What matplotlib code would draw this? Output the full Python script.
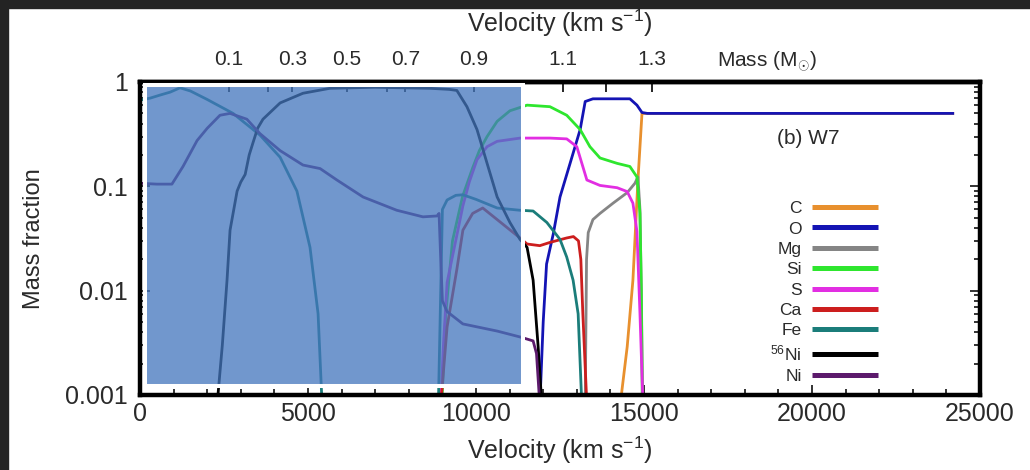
import numpy as np
import matplotlib
matplotlib.use("Agg")
import matplotlib.pyplot as plt
from matplotlib.patches import Rectangle
from matplotlib.ticker import FixedLocator, FixedFormatter, NullFormatter

plt.rcParams['font.family'] = ['Liberation Sans', 'DejaVu Sans']
plt.rcParams['mathtext.fontset'] = 'custom'
plt.rcParams['mathtext.rm'] = 'Liberation Sans'
plt.rcParams['mathtext.it'] = 'Liberation Sans:italic'

nan = np.nan

# velocity (km/s) and mass fraction
c_v = [14290, 14500, 14670, 14820, 14940, 15100, 24230]
c_x = [0.0008, 0.0029, 0.0126, 0.115, 0.5, 0.5, 0.5]

o_v = [11900, 12000, 12100, 12300, 12500, 12800, 13100, 13250, 13480, 14580, 14790, 14940, 15100, 24230]
o_x = [0.0008, 0.005, 0.018, 0.035, 0.079, 0.166, 0.35, 0.65, 0.69, 0.69, 0.6, 0.51, 0.5, 0.5]

mg_v = [13250, 13290, 13340, 13480, 13690, 14080, 14500, 14730, 14820, 14880, 14920, 14960]
mg_x = [0.0008, 0.02, 0.036, 0.048, 0.055, 0.069, 0.087, 0.107, 0.123, 0.06, 0.01, 0.0008]

si_v = [8980, 9100, 9300, 9600, 9900, 10100, 10330, 10630, 11010, 11310, 11520, 12200, 12700,
        13100, 13390, 13690, 14200, 14580, 14790, 14880, 14920, 14950]
si_x = [0.0008, 0.006, 0.03, 0.08, 0.15, 0.22, 0.3, 0.42, 0.53, 0.57, 0.6, 0.58, 0.48,
        0.35, 0.24, 0.187, 0.166, 0.155, 0.123, 0.055, 0.01, 0.0008]

s_v = [8950, 9030, 9140, 9430, 9610, 9800, 10030, 10330, 10630, 11310, 12200, 12700, 13000,
       13300, 13690, 14200, 14500, 14670, 14790, 14880, 14970]
s_x = [0.0008, 0.003, 0.012, 0.034, 0.065, 0.11, 0.18, 0.24, 0.27, 0.29, 0.29, 0.285, 0.24,
       0.115, 0.102, 0.097, 0.089, 0.069, 0.037, 0.006, 0.0008]

ca_v = [8950, 9050, 9140, 9430, 9610, 9900, 10200, 10630, 11310, 11520, 11900, 12200, 12700,
        12900, 13050, 13120, 13180, 13300]
ca_x = [0.0008, 0.002, 0.0045, 0.016, 0.038, 0.055, 0.062, 0.048, 0.032, 0.028, 0.027, 0.029, 0.032,
        0.033, 0.03, 0.02, 0.006, 0.0008]

fe_v = [0, 300, 600, 900, 1190, 1500, 2000, 2770, 3570, 4170, 4670, 5060, 5300, 5420, nan,
        8880, 8950, 9000, 9140, 9400, 9610, 10000, 10630, 11300, 11700, 12110, 12500, 12700,
        12890, 13040, 13150]
fe_x = [0.67, 0.7, 0.75, 0.8, 0.88, 0.82, 0.68, 0.5, 0.31, 0.19, 0.09, 0.026, 0.006, 0.0008, nan,
        0.0008, 0.01, 0.06, 0.074, 0.082, 0.083, 0.075, 0.062, 0.059, 0.058, 0.045, 0.031, 0.021,
        0.0126, 0.006, 0.0008]

ni56_v = [2000, 2320, 2450, 2590, 2680, 2890, 3000, 3130, 3250, 3360, 3500, 3660, 4170, 4850,
          5650, 7000, 8630, 9200, 9430, 9730, 10030, 10330, 10630, 11010, 11310, 11520, 11700,
          11850, 11960]
ni56_x = [0.0008, 0.001, 0.003, 0.0126, 0.038, 0.09, 0.11, 0.13, 0.2, 0.26, 0.36, 0.44, 0.63, 0.78,
          0.87, 0.89, 0.87, 0.85, 0.83, 0.58, 0.35, 0.166, 0.079, 0.045, 0.031, 0.026, 0.0126,
          0.0029, 0.0008]

ni_v = [0, 500, 950, 1280, 1700, 2000, 2380, 2680, 3180, 3570, 4170, 4850, 5360, 5860, 6640,
        7640, 8420, 8840, 8900, 8950, 9000, 9140, 9610, 10630, 11310, 11700, 11800, 11900]
ni_x = [0.107, 0.105, 0.105, 0.155, 0.275, 0.36, 0.48, 0.5, 0.44, 0.32, 0.22, 0.16, 0.148, 0.115, 0.079,
        0.059, 0.051, 0.052, 0.055, 0.02, 0.008, 0.0063, 0.0048, 0.0041, 0.0036, 0.0033, 0.0025, 0.0008]

series = [
    ('C', c_v, c_x, '#e8902e'),
    ('O', o_v, o_x, '#1414b4'),
    ('Mg', mg_v, mg_x, '#858585'),
    ('Si', si_v, si_x, '#2ee62e'),
    ('S', s_v, s_x, '#e22ee2'),
    ('Ca', ca_v, ca_x, '#cc1e1e'),
    ('Fe', fe_v, fe_x, '#1b7d7a'),
    ('$^{56}$Ni', ni56_v, ni56_x, '#000000'),
    ('Ni', ni_v, ni_x, '#5c1a6c'),
]

# top axis: enclosed mass (Msun) at velocity
mass_v = [2640, 3810, 4530, 6150, 7350, 7900, 9940, 12590, 13870, 15240]
mass_lbl = ['0.1', '', '0.3', '0.5', '', '0.7', '0.9', '1.1', '', '1.3']

W, H = 1030, 470
fig = plt.figure(figsize=(W / 100, H / 100), dpi=100)
ax = fig.add_axes([140 / W, 75 / H, 840 / W, 313 / H])

for name, v, x, col in series:
    ax.plot(v, x, color=col, lw=2.0, label=name, solid_capstyle='butt')

ax.set_yscale('log')
ax.set_ylim(0.001, 1)
ax.set_xlim(0, 25000)
ax.yaxis.set_major_locator(FixedLocator([0.001, 0.01, 0.1, 1]))
ax.yaxis.set_major_formatter(FixedFormatter(['0.001', '0.01', '0.1', '1']))
ax.yaxis.set_minor_formatter(NullFormatter())
ax.set_xticks([0, 5000, 10000, 15000, 20000, 25000])
ax.set_xticks(np.arange(0, 25001, 1000), minor=True)
ax.tick_params(which='both', direction='in', top=False, right=True, width=1.2, colors='#111111')
ax.tick_params(which='major', length=7, labelsize=18, labelcolor='#2a2a2a')
ax.tick_params(which='minor', length=4)
ax.tick_params(axis='x', pad=5)
ax.tick_params(axis='y', pad=9)
for sp in ax.spines.values():
    sp.set_linewidth(3.2)
ax.set_xlabel('Velocity (km s$^{-1}$)', fontsize=18, color='#2a2a2a', labelpad=6)
ax.set_ylabel('Mass fraction', fontsize=17, color='#2a2a2a', labelpad=14)

top = ax.twiny()
top.set_xlim(ax.get_xlim())
top.set_xticks(mass_v)
top.set_xticklabels(mass_lbl)
top.tick_params(direction='in', length=7, width=1.2, labelsize=15, pad=9, labelcolor='#2a2a2a')
top.spines['top'].set_linewidth(3.2)
top.set_xlabel('Velocity (km s$^{-1}$)', fontsize=18, color='#2a2a2a', labelpad=13)
fig.text(767 / W, 1 - 62 / H, 'Mass (M$_{\\odot}$)', fontsize=15, color='#2a2a2a',
         ha='center', va='center')

ax.text(0.795, 0.82, '(b) W7', transform=ax.transAxes, fontsize=15, color='#2a2a2a',
        ha='center', va='center')

leg = ax.legend(loc='upper right', bbox_to_anchor=(878 / W, 1 - 201 / H),
                bbox_transform=fig.transFigure, frameon=False, markerfirst=False,
                fontsize=12.5, handlelength=3.8, handletextpad=0.6, labelspacing=0.3,
                borderpad=0, borderaxespad=0)
for h in leg.legend_handles:
    h.set_linewidth(3.6)
for t in leg.get_texts():
    t.set_color('#2a2a2a')

# translucent blue panel pasted over the inner region
fig.add_artist(Rectangle((145 / W, 1 - 386 / H), 378 / W, 301 / H, transform=fig.transFigure,
                         facecolor=(68 / 255, 118 / 255, 189 / 255, 0.755),
                         edgecolor='white', lw=2.9, zorder=10))

# dark frame of the screenshot
fig.add_artist(Rectangle((0, 1 - 8 / H), 1, 8 / H, transform=fig.transFigure,
                         color='#232323', zorder=11))
fig.add_artist(Rectangle((0, 0), 8 / W, 1, transform=fig.transFigure,
                         color='#232323', zorder=11))

fig.savefig('out.png', dpi=100)
